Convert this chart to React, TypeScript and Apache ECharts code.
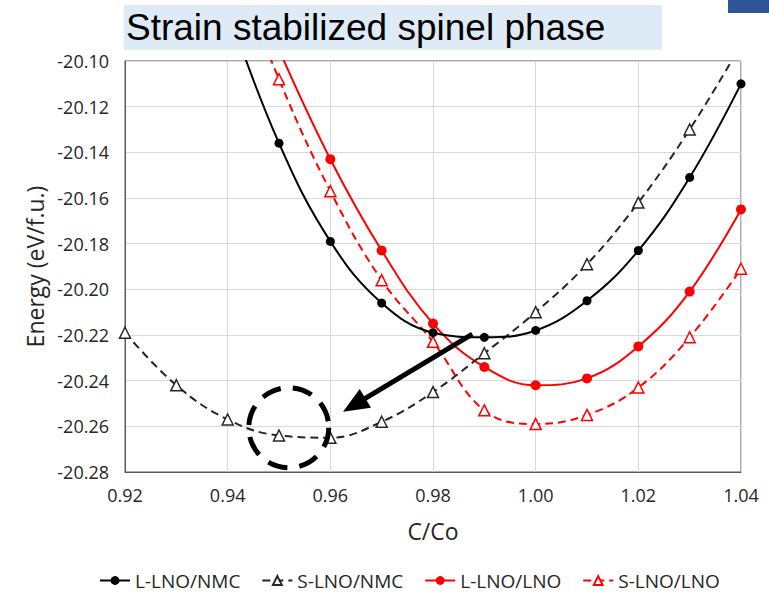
import React, { useEffect, useRef } from "react";
import * as echarts from "echarts";

// C/Co ratio (x values)
const cRatio = [0.92, 0.93, 0.94, 0.95, 0.96, 0.97, 0.98, 0.99, 1.0, 1.01, 1.02, 1.03, 1.04];

// Energies (eV/f.u.); null = no point
const lLnoNmc = [null, null, -20.077, -20.136, -20.179, -20.206, -20.219, -20.221, -20.218, -20.205, -20.183, -20.151, -20.110];
const sLnoNmc = [-20.219, -20.242, -20.257, -20.264, -20.265, -20.258, -20.245, -20.228, -20.210, -20.189, -20.162, -20.130, -20.093];
const lLnoLno = [null, null, null, -20.095, -20.143, -20.183, -20.215, -20.234, -20.242, -20.239, -20.225, -20.201, -20.165];
const sLnoLno = [null, null, -20.050, -20.108, -20.157, -20.196, -20.223, -20.253, -20.259, -20.255, -20.243, -20.221, -20.191];

const seriesNames = ["L-LNO/NMC", "S-LNO/NMC", "L-LNO/LNO", "S-LNO/LNO"];

const xMin = 0.92, xMax = 1.04, xStep = 0.02;
const yMin = -20.28, yMax = -20.10, yStep = 0.02;

const titleText = "Strain stabilized spinel phase";
const xName = "C/Co";
const yName = "Energy (eV/f.u.)";

// annotation anchors (data coordinates)
const arrowStart = [0.98766, -20.2196];
const arrowTip = [0.96248, -20.2536];
const circleCenter = [0.9519, -20.2606];

const FONT = "'Open Sans', 'Noto Sans', sans-serif";

function pairs(vals: (number | null)[]) {
  const out: number[][] = [];
  cRatio.forEach((c, i) => {
    const v = vals[i];
    if (v !== null && v !== undefined) out.push([c, v]);
  });
  return out;
}

export default function App() {
  const ref = useRef<HTMLDivElement>(null);

  useEffect(() => {
    if (!ref.current) return;
    const chart = echarts.init(ref.current, undefined, { renderer: "svg" });

    const solid = (color: string, size: number) => ({
      type: "line",
      smooth: 0.4,
      symbol: "circle",
      symbolSize: size,
      clip: true,
      lineStyle: { color, width: 2, type: "solid" },
      itemStyle: { color, borderColor: color, borderWidth: 0 },
    });
    const dashed = (color: string) => ({
      type: "line",
      smooth: 0.4,
      symbol: "triangle",
      symbolSize: 11,
      clip: true,
      lineStyle: { color, width: 2, type: [8, 5] },
      itemStyle: { color: "#ffffff", borderColor: color, borderWidth: 1.5 },
    });

    const option: any = {
      animation: false,
      backgroundColor: "#ffffff",
      textStyle: { fontFamily: FONT },
      grid: {
        left: 125,
        right: 28,
        top: 61,
        bottom: 126,
        show: true,
        borderColor: "#595959",
        borderWidth: 1,
        backgroundColor: "transparent",
      },
      xAxis: {
        type: "value",
        min: xMin,
        max: xMax,
        interval: xStep,
        name: xName,
        nameLocation: "middle",
        nameGap: 47,
        nameTextStyle: { fontSize: 23, color: "#262626", fontFamily: FONT },
        axisLine: { show: true, lineStyle: { color: "#595959", width: 1 } },
        axisTick: { show: false },
        axisLabel: {
          fontSize: 18,
          color: "#262626",
          margin: 14,
          fontFamily: FONT,
          formatter: (v: number) => v.toFixed(2),
        },
        splitLine: { show: true, lineStyle: { color: "#d9d9d9", width: 1 } },
      },
      yAxis: {
        type: "value",
        min: yMin,
        max: yMax,
        interval: yStep,
        name: yName,
        nameLocation: "middle",
        nameRotate: 90,
        nameGap: 79,
        nameTextStyle: { fontSize: 23, color: "#262626", fontFamily: FONT },
        axisLine: { show: true, lineStyle: { color: "#595959", width: 1 } },
        axisTick: { show: false },
        axisLabel: {
          fontSize: 18,
          color: "#262626",
          margin: 16,
          fontFamily: FONT,
          formatter: (v: number) => v.toFixed(2),
        },
        splitLine: { show: true, lineStyle: { color: "#d9d9d9", width: 1 } },
      },
      legend: {
        data: seriesNames,
        top: 566,
        left: 94,
        itemWidth: 30,
        itemHeight: 11,
        itemGap: 21,
        textStyle: { fontSize: 19, color: "#262626", fontFamily: FONT },
      },
      series: [
        { name: seriesNames[0], ...solid("#000000", 9), data: pairs(lLnoNmc), z: 4 },
        { name: seriesNames[1], ...dashed("#262626"), data: pairs(sLnoNmc), z: 3 },
        { name: seriesNames[2], ...solid("#ff0000", 10), data: pairs(lLnoLno), z: 2 },
        { name: seriesNames[3], ...dashed("#ff0000"), data: pairs(sLnoLno), z: 1 },
      ],
      graphic: [
        {
          type: "rect",
          id: "titleBox",
          shape: { x: 124, y: 5, width: 538, height: 45 },
          style: { fill: "#deeaf6" },
          z: 10,
        },
        {
          type: "text",
          id: "titleText",
          x: 126,
          y: 27.5,
          style: {
            text: titleText,
            fontSize: 37,
            fontFamily: "'Liberation Sans', Arial, sans-serif",
            fill: "#000000",
            textVerticalAlign: "middle",
            verticalAlign: "middle",
          },
          z: 11,
        },
        {
          type: "rect",
          id: "cornerBox",
          shape: { x: 728, y: 0, width: 41, height: 13 },
          style: { fill: "#2f5597" },
          z: 10,
        },
      ],
    };

    chart.setOption(option);

    const s = chart.convertToPixel({ gridIndex: 0 }, arrowStart) as number[];
    const t = chart.convertToPixel({ gridIndex: 0 }, arrowTip) as number[];
    const c = chart.convertToPixel({ gridIndex: 0 }, circleCenter) as number[];
    const dx = t[0] - s[0];
    const dy = t[1] - s[1];
    const len = Math.sqrt(dx * dx + dy * dy);
    const ux = dx / len, uy = dy / len;
    const px = -uy, py = ux;
    const headLen = 26, headHalf = 11;
    const bx = t[0] - ux * headLen, by = t[1] - uy * headLen;

    chart.setOption({
      graphic: [
        {
          type: "line",
          id: "arrowLine",
          shape: { x1: s[0], y1: s[1], x2: bx + ux * 3, y2: by + uy * 3 },
          style: { stroke: "#000000", lineWidth: 5 },
          z: 20,
        },
        {
          type: "polygon",
          id: "arrowHead",
          shape: {
            points: [
              [t[0], t[1]],
              [bx + px * headHalf, by + py * headHalf],
              [bx - px * headHalf, by - py * headHalf],
            ],
          },
          style: { fill: "#000000" },
          z: 20,
        },
        {
          type: "circle",
          id: "ring",
          shape: { cx: c[0], cy: c[1], r: 40 },
          style: { fill: "none", stroke: "#000000", lineWidth: 5, lineDash: [20, 12] },
          z: 20,
        },
      ],
    });

    return () => chart.dispose();
  }, []);

  return (
    <div
      ref={ref}
      style={{ position: "fixed", left: 0, top: 0, width: 769, height: 598 }}
    />
  );
}
